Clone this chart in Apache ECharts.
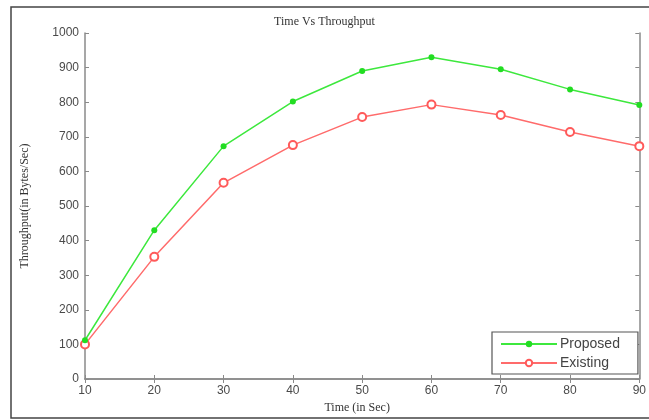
<!DOCTYPE html>
<html>
<head>
<meta charset="utf-8">
<script src="https://cdn.jsdelivr.net/npm/echarts@6/dist/echarts.min.js"></script>
<style>
  html, body { margin: 0; padding: 0; background: #fff; }
  #chart { width: 649px; height: 420px; }
</style>
</head>
<body>
<div id="chart"></div>
<script>
// Time in seconds on the x axis
const times = [10, 20, 30, 40, 50, 60, 70, 80, 90];
// Throughput values (Bytes/Sec)
const proposed = [112, 430, 673, 802, 890, 930, 895, 837, 792];
const existing = [100, 353, 567, 676, 757, 793, 763, 714, 673];
const seriesNames = ['Proposed', 'Existing'];

const chart = echarts.init(document.getElementById('chart'));

const axisGray = '#8a8a8a';
const labelGray = '#4a4a4a';

function pairs(xs, ys) {
  return xs.map((x, i) => [x, ys[i]]);
}

const plainNumber = v => String(v);

chart.setOption({
  animation: false,
  backgroundColor: '#ffffff',
  title: {
    text: 'Time Vs Throughput',
    left: 'center',
    top: 11,
    textStyle: { fontFamily: 'Liberation Serif', fontSize: 12, fontWeight: 'normal', color: '#333' }
  },
  graphic: [{
    type: 'rect',
    shape: { x: 11, y: 7, width: 700, height: 411 },
    style: { fill: 'none', stroke: '#444', lineWidth: 1.5 },
    silent: true
  }],
  grid: { left: 85, right: 6, top: 33, bottom: 41 },
  legend: {
    data: seriesNames,
    orient: 'vertical',
    left: 492,
    top: 332,
    itemWidth: 56,
    itemHeight: 8,
    itemGap: 5,
    padding: [5, 18, 4, 8],
    borderColor: '#555',
    borderWidth: 1.2,
    backgroundColor: '#fff',
    textStyle: { fontFamily: 'Liberation Sans', fontSize: 14, color: '#444', padding: [0, 0, 0, -2] }
  },
  xAxis: [{
    type: 'value',
    min: 10, max: 90, interval: 10,
    name: 'Time (in Sec)',
    nameLocation: 'middle',
    nameGap: 23,
    nameTextStyle: { fontFamily: 'Liberation Serif', fontSize: 12, color: '#333', padding: [0, 10, 0, 0] },
    axisLine: { show: true, lineStyle: { color: axisGray, width: 1.5 } },
    axisTick: { show: true, inside: true, length: 4, lineStyle: { color: axisGray } },
    axisLabel: { fontFamily: 'Liberation Sans', fontSize: 12, color: labelGray, margin: 6, formatter: plainNumber },
    splitLine: { show: false }
  }, {
    type: 'value',
    position: 'top',
    min: 10, max: 90, interval: 10,
    axisLine: { show: true, lineStyle: { color: axisGray, width: 1.5 } },
    axisTick: { show: true, inside: true, length: 4, lineStyle: { color: axisGray } },
    axisLabel: { show: false },
    splitLine: { show: false }
  }],
  yAxis: [{
    type: 'value',
    min: 0, max: 1000, interval: 100,
    name: 'Throughput(in Bytes/Sec)',
    nameLocation: 'middle',
    nameGap: 54,
    nameTextStyle: { fontFamily: 'Liberation Serif', fontSize: 12, color: '#333' },
    axisLine: { show: true, lineStyle: { color: axisGray, width: 1.5 } },
    axisTick: { show: true, inside: true, length: 4, lineStyle: { color: axisGray } },
    axisLabel: { fontFamily: 'Liberation Sans', fontSize: 12, color: labelGray, margin: 6, formatter: plainNumber },
    splitLine: { show: false }
  }, {
    type: 'value',
    position: 'right',
    min: 0, max: 1000, interval: 100,
    axisLine: { show: true, lineStyle: { color: axisGray, width: 1.5 } },
    axisTick: { show: true, inside: true, length: 4, lineStyle: { color: axisGray } },
    axisLabel: { show: false },
    splitLine: { show: false }
  }],
  series: [{
    name: seriesNames[0],
    type: 'line',
    data: pairs(times, proposed),
    symbol: 'circle',
    symbolSize: 6,
    lineStyle: { color: '#3de83d', width: 1.5 },
    itemStyle: { color: '#22dd22' },
    z: 3
  }, {
    name: seriesNames[1],
    type: 'line',
    data: pairs(times, existing),
    symbol: 'emptyCircle',
    symbolSize: 8,
    lineStyle: { color: '#ff6b6b', width: 1.5 },
    itemStyle: { color: '#ff5a5a', borderWidth: 1.5 },
    z: 2
  }]
});
</script>
</body>
</html>
